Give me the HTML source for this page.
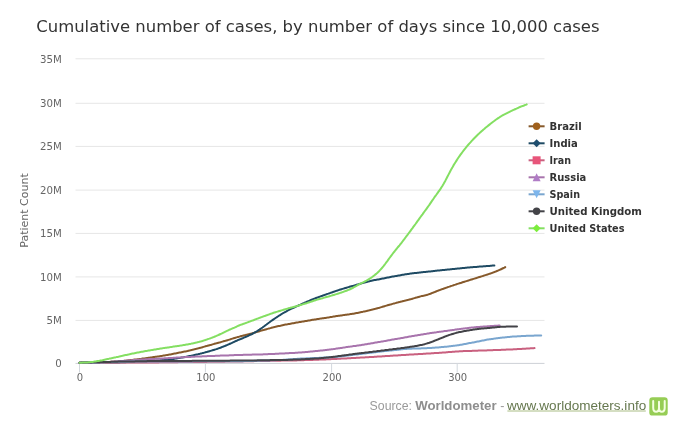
<!DOCTYPE html>
<html><head><meta charset="utf-8"><title>Cumulative number of cases</title>
<style>html,body{margin:0;padding:0;background:#fff;width:690px;height:435px;overflow:hidden}svg{display:block;filter:blur(0.3px)}</style>
</head><body>
<svg width="690" height="435" viewBox="0 0 690 435">
<rect width="690" height="435" fill="#fff"/>
<text x="36.3" y="31.8" font-family="DejaVu Sans, sans-serif" font-size="16.45" fill="#333333">Cumulative number of cases, by number of days since 10,000 cases</text>
<line x1="75.5" x2="544.5" y1="58.8" y2="58.8" stroke="#e6e6e6" stroke-width="1"/>
<line x1="75.5" x2="544.5" y1="103.3" y2="103.3" stroke="#e6e6e6" stroke-width="1"/>
<line x1="75.5" x2="544.5" y1="146.4" y2="146.4" stroke="#e6e6e6" stroke-width="1"/>
<line x1="75.5" x2="544.5" y1="190.1" y2="190.1" stroke="#e6e6e6" stroke-width="1"/>
<line x1="75.5" x2="544.5" y1="233.4" y2="233.4" stroke="#e6e6e6" stroke-width="1"/>
<line x1="75.5" x2="544.5" y1="276.9" y2="276.9" stroke="#e6e6e6" stroke-width="1"/>
<line x1="75.5" x2="544.5" y1="320.4" y2="320.4" stroke="#e6e6e6" stroke-width="1"/>
<text x="61.8" y="62.8" text-anchor="end" font-family="DejaVu Sans, sans-serif" font-size="10.2" fill="#666666">35M</text>
<text x="61.8" y="107.3" text-anchor="end" font-family="DejaVu Sans, sans-serif" font-size="10.2" fill="#666666">30M</text>
<text x="61.8" y="150.4" text-anchor="end" font-family="DejaVu Sans, sans-serif" font-size="10.2" fill="#666666">25M</text>
<text x="61.8" y="194.1" text-anchor="end" font-family="DejaVu Sans, sans-serif" font-size="10.2" fill="#666666">20M</text>
<text x="61.8" y="237.4" text-anchor="end" font-family="DejaVu Sans, sans-serif" font-size="10.2" fill="#666666">15M</text>
<text x="61.8" y="280.9" text-anchor="end" font-family="DejaVu Sans, sans-serif" font-size="10.2" fill="#666666">10M</text>
<text x="61.8" y="324.4" text-anchor="end" font-family="DejaVu Sans, sans-serif" font-size="10.2" fill="#666666">5M</text>
<text x="61.8" y="367.4" text-anchor="end" font-family="DejaVu Sans, sans-serif" font-size="10.2" fill="#666666">0</text>
<text transform="translate(27.9,210.5) rotate(-90)" text-anchor="middle" font-family="DejaVu Sans, sans-serif" font-size="11" fill="#666666">Patient Count</text>
<line x1="75.5" x2="544.5" y1="363.4" y2="363.4" stroke="#cdd1d6" stroke-width="1"/>
<line x1="79.5" x2="79.5" y1="363.4" y2="372.5" stroke="#d3d8de" stroke-width="1"/>
<text x="80.0" y="380.6" text-anchor="middle" font-family="DejaVu Sans, sans-serif" font-size="10" fill="#666666">0</text>
<line x1="205.4" x2="205.4" y1="363.4" y2="372.5" stroke="#d3d8de" stroke-width="1"/>
<text x="205.9" y="380.6" text-anchor="middle" font-family="DejaVu Sans, sans-serif" font-size="10" fill="#666666">100</text>
<line x1="331.6" x2="331.6" y1="363.4" y2="372.5" stroke="#d3d8de" stroke-width="1"/>
<text x="332.1" y="380.6" text-anchor="middle" font-family="DejaVu Sans, sans-serif" font-size="10" fill="#666666">200</text>
<line x1="457.2" x2="457.2" y1="363.4" y2="372.5" stroke="#d3d8de" stroke-width="1"/>
<text x="457.7" y="380.6" text-anchor="middle" font-family="DejaVu Sans, sans-serif" font-size="10" fill="#666666">300</text>
<path d="M79.5,362.7 L80.5,362.7 L81.5,362.7 L82.5,362.7 L83.5,362.6 L84.5,362.6 L85.5,362.6 L86.5,362.6 L87.5,362.6 L88.5,362.6 L89.5,362.6 L90.5,362.5 L91.5,362.5 L92.5,362.5 L93.5,362.5 L94.5,362.5 L95.5,362.5 L96.5,362.4 L97.5,362.4 L98.5,362.4 L99.5,362.4 L100.5,362.3 L101.5,362.3 L102.5,362.2 L103.5,362.2 L104.5,362.1 L105.5,362.1 L106.5,362.0 L107.5,362.0 L108.5,361.9 L109.5,361.9 L110.5,361.8 L111.5,361.8 L112.5,361.7 L113.5,361.7 L114.5,361.6 L115.5,361.5 L116.5,361.5 L117.5,361.4 L118.5,361.3 L119.5,361.3 L120.5,361.2 L121.5,361.1 L122.5,361.0 L123.5,360.9 L124.5,360.8 L125.5,360.7 L126.5,360.6 L127.5,360.4 L128.5,360.3 L129.5,360.2 L130.5,360.1 L131.5,360.0 L132.5,359.9 L133.5,359.7 L134.5,359.6 L135.5,359.5 L136.5,359.4 L137.5,359.3 L138.5,359.2 L139.5,359.0 L140.5,358.9 L141.5,358.8 L142.5,358.6 L143.5,358.5 L144.5,358.4 L145.5,358.2 L146.5,358.1 L147.5,357.9 L148.5,357.8 L149.5,357.7 L150.5,357.5 L151.5,357.4 L152.5,357.2 L153.5,357.1 L154.5,357.0 L155.5,356.8 L156.5,356.7 L157.5,356.5 L158.5,356.4 L159.5,356.2 L160.5,356.1 L161.5,355.9 L162.5,355.8 L163.5,355.6 L164.5,355.4 L165.5,355.2 L166.5,355.1 L167.5,354.9 L168.5,354.7 L169.5,354.5 L170.5,354.4 L171.5,354.2 L172.5,354.0 L173.5,353.8 L174.5,353.6 L175.5,353.4 L176.5,353.2 L177.5,353.0 L178.5,352.8 L179.5,352.6 L180.5,352.4 L181.5,352.2 L182.5,352.0 L183.5,351.8 L184.5,351.6 L185.5,351.4 L186.5,351.2 L187.5,351.0 L188.5,350.7 L189.5,350.5 L190.5,350.3 L191.5,350.0 L192.5,349.8 L193.5,349.5 L194.5,349.3 L195.5,349.0 L196.5,348.8 L197.5,348.5 L198.5,348.3 L199.5,348.0 L200.5,347.7 L201.5,347.5 L202.5,347.2 L203.5,346.9 L204.5,346.6 L205.5,346.3 L206.5,346.1 L207.5,345.8 L208.5,345.5 L209.5,345.2 L210.5,344.9 L211.5,344.7 L212.5,344.4 L213.5,344.1 L214.5,343.8 L215.5,343.5 L216.5,343.3 L217.5,343.0 L218.5,342.7 L219.5,342.4 L220.5,342.2 L221.5,341.9 L222.5,341.6 L223.5,341.3 L224.5,341.0 L225.5,340.8 L226.5,340.5 L227.5,340.2 L228.5,339.9 L229.5,339.6 L230.5,339.3 L231.5,338.9 L232.5,338.6 L233.5,338.3 L234.5,338.0 L235.5,337.7 L236.5,337.4 L237.5,337.1 L238.5,336.9 L239.5,336.6 L240.5,336.3 L241.5,336.0 L242.5,335.8 L243.5,335.5 L244.5,335.2 L245.5,335.0 L246.5,334.7 L247.5,334.5 L248.5,334.2 L249.5,334.0 L250.5,333.7 L251.5,333.5 L252.5,333.2 L253.5,332.9 L254.5,332.6 L255.5,332.4 L256.5,332.1 L257.5,331.8 L258.5,331.5 L259.5,331.2 L260.5,330.9 L261.5,330.6 L262.5,330.3 L263.5,330.1 L264.5,329.8 L265.5,329.5 L266.5,329.2 L267.5,328.9 L268.5,328.6 L269.5,328.4 L270.5,328.1 L271.5,327.8 L272.5,327.5 L273.5,327.3 L274.5,327.0 L275.5,326.8 L276.5,326.5 L277.5,326.3 L278.5,326.1 L279.5,325.9 L280.5,325.7 L281.5,325.4 L282.5,325.2 L283.5,325.0 L284.5,324.8 L285.5,324.6 L286.5,324.4 L287.5,324.3 L288.5,324.1 L289.5,323.9 L290.5,323.7 L291.5,323.5 L292.5,323.3 L293.5,323.2 L294.5,323.0 L295.5,322.8 L296.5,322.6 L297.5,322.4 L298.5,322.3 L299.5,322.1 L300.5,321.9 L301.5,321.7 L302.5,321.6 L303.5,321.4 L304.5,321.2 L305.5,321.0 L306.5,320.9 L307.5,320.7 L308.5,320.5 L309.5,320.4 L310.5,320.2 L311.5,320.0 L312.5,319.8 L313.5,319.7 L314.5,319.5 L315.5,319.4 L316.5,319.2 L317.5,319.0 L318.5,318.9 L319.5,318.7 L320.5,318.6 L321.5,318.4 L322.5,318.3 L323.5,318.2 L324.5,318.0 L325.5,317.9 L326.5,317.7 L327.5,317.6 L328.5,317.4 L329.5,317.3 L330.5,317.1 L331.5,316.9 L332.5,316.8 L333.5,316.6 L334.5,316.5 L335.5,316.3 L336.5,316.1 L337.5,316.0 L338.5,315.8 L339.5,315.7 L340.5,315.5 L341.5,315.4 L342.5,315.2 L343.5,315.1 L344.5,314.9 L345.5,314.8 L346.5,314.7 L347.5,314.5 L348.5,314.4 L349.5,314.3 L350.5,314.1 L351.5,314.0 L352.5,313.8 L353.5,313.7 L354.5,313.5 L355.5,313.3 L356.5,313.1 L357.5,312.9 L358.5,312.7 L359.5,312.5 L360.5,312.3 L361.5,312.1 L362.5,311.9 L363.5,311.6 L364.5,311.4 L365.5,311.2 L366.5,311.0 L367.5,310.7 L368.5,310.5 L369.5,310.3 L370.5,310.0 L371.5,309.8 L372.5,309.5 L373.5,309.3 L374.5,309.0 L375.5,308.8 L376.5,308.5 L377.5,308.2 L378.5,307.9 L379.5,307.7 L380.5,307.4 L381.5,307.1 L382.5,306.8 L383.5,306.5 L384.5,306.2 L385.5,305.9 L386.5,305.6 L387.5,305.3 L388.5,305.0 L389.5,304.7 L390.5,304.4 L391.5,304.2 L392.5,303.9 L393.5,303.6 L394.5,303.4 L395.5,303.1 L396.5,302.8 L397.5,302.6 L398.5,302.3 L399.5,302.1 L400.5,301.8 L401.5,301.6 L402.5,301.3 L403.5,301.0 L404.5,300.8 L405.5,300.5 L406.5,300.3 L407.5,300.0 L408.5,299.8 L409.5,299.5 L410.5,299.2 L411.5,299.0 L412.5,298.7 L413.5,298.4 L414.5,298.1 L415.5,297.8 L416.5,297.6 L417.5,297.3 L418.5,297.0 L419.5,296.7 L420.5,296.4 L421.5,296.1 L422.5,295.9 L423.5,295.7 L424.5,295.5 L425.5,295.2 L426.5,295.0 L427.5,294.7 L428.5,294.4 L429.5,294.0 L430.5,293.7 L431.5,293.3 L432.5,292.9 L433.5,292.5 L434.5,292.1 L435.5,291.7 L436.5,291.3 L437.5,290.9 L438.5,290.5 L439.5,290.1 L440.5,289.8 L441.5,289.4 L442.5,289.0 L443.5,288.7 L444.5,288.3 L445.5,288.0 L446.5,287.6 L447.5,287.3 L448.5,286.9 L449.5,286.6 L450.5,286.2 L451.5,285.9 L452.5,285.6 L453.5,285.2 L454.5,284.9 L455.5,284.6 L456.5,284.2 L457.5,283.9 L458.5,283.6 L459.5,283.3 L460.5,283.0 L461.5,282.7 L462.5,282.3 L463.5,282.0 L464.5,281.7 L465.5,281.4 L466.5,281.1 L467.5,280.8 L468.5,280.5 L469.5,280.1 L470.5,279.8 L471.5,279.5 L472.5,279.2 L473.5,278.9 L474.5,278.6 L475.5,278.3 L476.5,278.0 L477.5,277.6 L478.5,277.3 L479.5,277.0 L480.5,276.7 L481.5,276.4 L482.5,276.1 L483.5,275.8 L484.5,275.4 L485.5,275.1 L486.5,274.8 L487.5,274.5 L488.5,274.1 L489.5,273.8 L490.5,273.5 L491.5,273.1 L492.5,272.8 L493.5,272.4 L494.5,272.0 L495.5,271.6 L496.5,271.2 L497.5,270.8 L498.5,270.4 L499.5,269.9 L500.5,269.5 L501.5,269.0 L502.5,268.5 L503.5,268.0 L504.5,267.6 L505.2,267.1" fill="none" stroke="#86592b" stroke-width="2" stroke-linejoin="round" stroke-linecap="round"/>
<path d="M79.5,362.7 L80.5,362.7 L81.5,362.7 L82.5,362.7 L83.5,362.7 L84.5,362.7 L85.5,362.7 L86.5,362.6 L87.5,362.6 L88.5,362.6 L89.5,362.6 L90.5,362.6 L91.5,362.6 L92.5,362.6 L93.5,362.6 L94.5,362.6 L95.5,362.6 L96.5,362.6 L97.5,362.6 L98.5,362.6 L99.5,362.6 L100.5,362.5 L101.5,362.5 L102.5,362.5 L103.5,362.5 L104.5,362.5 L105.5,362.5 L106.5,362.5 L107.5,362.5 L108.5,362.5 L109.5,362.5 L110.5,362.5 L111.5,362.5 L112.5,362.5 L113.5,362.4 L114.5,362.4 L115.5,362.4 L116.5,362.4 L117.5,362.4 L118.5,362.4 L119.5,362.4 L120.5,362.3 L121.5,362.3 L122.5,362.3 L123.5,362.3 L124.5,362.2 L125.5,362.2 L126.5,362.1 L127.5,362.1 L128.5,362.1 L129.5,362.0 L130.5,362.0 L131.5,361.9 L132.5,361.9 L133.5,361.9 L134.5,361.8 L135.5,361.8 L136.5,361.7 L137.5,361.7 L138.5,361.7 L139.5,361.6 L140.5,361.6 L141.5,361.5 L142.5,361.5 L143.5,361.5 L144.5,361.4 L145.5,361.4 L146.5,361.3 L147.5,361.3 L148.5,361.2 L149.5,361.2 L150.5,361.1 L151.5,361.0 L152.5,361.0 L153.5,360.9 L154.5,360.8 L155.5,360.7 L156.5,360.6 L157.5,360.6 L158.5,360.5 L159.5,360.4 L160.5,360.3 L161.5,360.2 L162.5,360.1 L163.5,360.1 L164.5,360.0 L165.5,359.9 L166.5,359.8 L167.5,359.7 L168.5,359.6 L169.5,359.5 L170.5,359.3 L171.5,359.2 L172.5,359.1 L173.5,358.9 L174.5,358.8 L175.5,358.6 L176.5,358.4 L177.5,358.3 L178.5,358.1 L179.5,357.9 L180.5,357.8 L181.5,357.6 L182.5,357.4 L183.5,357.3 L184.5,357.1 L185.5,356.9 L186.5,356.7 L187.5,356.5 L188.5,356.3 L189.5,356.1 L190.5,355.9 L191.5,355.7 L192.5,355.5 L193.5,355.3 L194.5,355.0 L195.5,354.8 L196.5,354.6 L197.5,354.4 L198.5,354.1 L199.5,353.9 L200.5,353.6 L201.5,353.4 L202.5,353.1 L203.5,352.9 L204.5,352.6 L205.5,352.3 L206.5,352.1 L207.5,351.8 L208.5,351.5 L209.5,351.2 L210.5,350.9 L211.5,350.6 L212.5,350.3 L213.5,350.0 L214.5,349.7 L215.5,349.4 L216.5,349.1 L217.5,348.7 L218.5,348.4 L219.5,348.0 L220.5,347.7 L221.5,347.3 L222.5,346.9 L223.5,346.5 L224.5,346.1 L225.5,345.7 L226.5,345.3 L227.5,344.9 L228.5,344.4 L229.5,344.0 L230.5,343.5 L231.5,343.1 L232.5,342.6 L233.5,342.1 L234.5,341.7 L235.5,341.2 L236.5,340.8 L237.5,340.3 L238.5,339.9 L239.5,339.5 L240.5,339.1 L241.5,338.7 L242.5,338.3 L243.5,337.8 L244.5,337.4 L245.5,337.0 L246.5,336.6 L247.5,336.1 L248.5,335.7 L249.5,335.2 L250.5,334.7 L251.5,334.3 L252.5,333.8 L253.5,333.2 L254.5,332.7 L255.5,332.1 L256.5,331.5 L257.5,330.9 L258.5,330.2 L259.5,329.6 L260.5,328.9 L261.5,328.2 L262.5,327.5 L263.5,326.7 L264.5,326.0 L265.5,325.2 L266.5,324.5 L267.5,323.7 L268.5,323.0 L269.5,322.3 L270.5,321.5 L271.5,320.8 L272.5,320.1 L273.5,319.4 L274.5,318.7 L275.5,318.0 L276.5,317.4 L277.5,316.7 L278.5,316.0 L279.5,315.4 L280.5,314.8 L281.5,314.1 L282.5,313.5 L283.5,312.9 L284.5,312.4 L285.5,311.8 L286.5,311.3 L287.5,310.7 L288.5,310.2 L289.5,309.7 L290.5,309.2 L291.5,308.7 L292.5,308.2 L293.5,307.8 L294.5,307.3 L295.5,306.8 L296.5,306.4 L297.5,305.9 L298.5,305.5 L299.5,305.0 L300.5,304.6 L301.5,304.1 L302.5,303.7 L303.5,303.3 L304.5,302.8 L305.5,302.4 L306.5,302.0 L307.5,301.5 L308.5,301.1 L309.5,300.7 L310.5,300.2 L311.5,299.8 L312.5,299.4 L313.5,299.0 L314.5,298.6 L315.5,298.2 L316.5,297.8 L317.5,297.5 L318.5,297.1 L319.5,296.7 L320.5,296.4 L321.5,296.0 L322.5,295.7 L323.5,295.3 L324.5,295.0 L325.5,294.6 L326.5,294.3 L327.5,293.9 L328.5,293.6 L329.5,293.2 L330.5,292.9 L331.5,292.5 L332.5,292.2 L333.5,291.8 L334.5,291.5 L335.5,291.1 L336.5,290.8 L337.5,290.5 L338.5,290.1 L339.5,289.8 L340.5,289.5 L341.5,289.2 L342.5,288.9 L343.5,288.6 L344.5,288.3 L345.5,288.0 L346.5,287.7 L347.5,287.4 L348.5,287.1 L349.5,286.8 L350.5,286.5 L351.5,286.2 L352.5,285.9 L353.5,285.7 L354.5,285.4 L355.5,285.1 L356.5,284.8 L357.5,284.6 L358.5,284.3 L359.5,284.0 L360.5,283.7 L361.5,283.4 L362.5,283.1 L363.5,282.8 L364.5,282.6 L365.5,282.3 L366.5,282.0 L367.5,281.7 L368.5,281.4 L369.5,281.2 L370.5,280.9 L371.5,280.7 L372.5,280.5 L373.5,280.3 L374.5,280.1 L375.5,279.9 L376.5,279.7 L377.5,279.5 L378.5,279.4 L379.5,279.2 L380.5,279.0 L381.5,278.8 L382.5,278.6 L383.5,278.4 L384.5,278.2 L385.5,278.0 L386.5,277.8 L387.5,277.6 L388.5,277.4 L389.5,277.2 L390.5,277.0 L391.5,276.8 L392.5,276.6 L393.5,276.4 L394.5,276.2 L395.5,276.1 L396.5,275.9 L397.5,275.7 L398.5,275.5 L399.5,275.4 L400.5,275.2 L401.5,275.0 L402.5,274.8 L403.5,274.7 L404.5,274.5 L405.5,274.3 L406.5,274.2 L407.5,274.0 L408.5,273.9 L409.5,273.7 L410.5,273.6 L411.5,273.5 L412.5,273.3 L413.5,273.2 L414.5,273.1 L415.5,273.0 L416.5,272.9 L417.5,272.8 L418.5,272.7 L419.5,272.6 L420.5,272.5 L421.5,272.3 L422.5,272.2 L423.5,272.1 L424.5,272.0 L425.5,271.9 L426.5,271.8 L427.5,271.7 L428.5,271.6 L429.5,271.5 L430.5,271.4 L431.5,271.3 L432.5,271.2 L433.5,271.0 L434.5,270.9 L435.5,270.8 L436.5,270.7 L437.5,270.6 L438.5,270.5 L439.5,270.4 L440.5,270.3 L441.5,270.2 L442.5,270.1 L443.5,270.0 L444.5,269.9 L445.5,269.8 L446.5,269.7 L447.5,269.6 L448.5,269.5 L449.5,269.4 L450.5,269.3 L451.5,269.2 L452.5,269.1 L453.5,269.0 L454.5,268.9 L455.5,268.8 L456.5,268.7 L457.5,268.6 L458.5,268.5 L459.5,268.4 L460.5,268.3 L461.5,268.2 L462.5,268.1 L463.5,268.0 L464.5,267.9 L465.5,267.8 L466.5,267.7 L467.5,267.6 L468.5,267.5 L469.5,267.4 L470.5,267.3 L471.5,267.3 L472.5,267.2 L473.5,267.1 L474.5,267.0 L475.5,266.9 L476.5,266.9 L477.5,266.8 L478.5,266.7 L479.5,266.6 L480.5,266.6 L481.5,266.5 L482.5,266.4 L483.5,266.3 L484.5,266.3 L485.5,266.2 L486.5,266.1 L487.5,266.0 L488.5,266.0 L489.5,265.9 L490.5,265.8 L491.5,265.7 L492.5,265.6 L493.5,265.6 L494.4,265.5" fill="none" stroke="#1e4a63" stroke-width="2" stroke-linejoin="round" stroke-linecap="round"/>
<path d="M79.5,362.7 L80.5,362.7 L81.5,362.7 L82.5,362.7 L83.5,362.7 L84.5,362.7 L85.5,362.7 L86.5,362.7 L87.5,362.7 L88.5,362.7 L89.5,362.7 L90.5,362.7 L91.5,362.7 L92.5,362.6 L93.5,362.6 L94.5,362.6 L95.5,362.6 L96.5,362.6 L97.5,362.6 L98.5,362.6 L99.5,362.6 L100.5,362.6 L101.5,362.6 L102.5,362.6 L103.5,362.6 L104.5,362.6 L105.5,362.6 L106.5,362.6 L107.5,362.6 L108.5,362.6 L109.5,362.6 L110.5,362.6 L111.5,362.6 L112.5,362.6 L113.5,362.6 L114.5,362.6 L115.5,362.6 L116.5,362.6 L117.5,362.5 L118.5,362.5 L119.5,362.5 L120.5,362.5 L121.5,362.5 L122.5,362.5 L123.5,362.5 L124.5,362.5 L125.5,362.5 L126.5,362.5 L127.5,362.5 L128.5,362.5 L129.5,362.5 L130.5,362.5 L131.5,362.5 L132.5,362.5 L133.5,362.5 L134.5,362.5 L135.5,362.5 L136.5,362.5 L137.5,362.5 L138.5,362.5 L139.5,362.5 L140.5,362.5 L141.5,362.5 L142.5,362.4 L143.5,362.4 L144.5,362.4 L145.5,362.4 L146.5,362.4 L147.5,362.4 L148.5,362.4 L149.5,362.4 L150.5,362.4 L151.5,362.4 L152.5,362.4 L153.5,362.4 L154.5,362.4 L155.5,362.4 L156.5,362.4 L157.5,362.4 L158.5,362.4 L159.5,362.3 L160.5,362.3 L161.5,362.3 L162.5,362.3 L163.5,362.3 L164.5,362.3 L165.5,362.3 L166.5,362.3 L167.5,362.3 L168.5,362.3 L169.5,362.2 L170.5,362.2 L171.5,362.2 L172.5,362.2 L173.5,362.2 L174.5,362.2 L175.5,362.2 L176.5,362.2 L177.5,362.2 L178.5,362.1 L179.5,362.1 L180.5,362.1 L181.5,362.1 L182.5,362.1 L183.5,362.1 L184.5,362.1 L185.5,362.1 L186.5,362.1 L187.5,362.1 L188.5,362.0 L189.5,362.0 L190.5,362.0 L191.5,362.0 L192.5,362.0 L193.5,362.0 L194.5,362.0 L195.5,362.0 L196.5,362.0 L197.5,361.9 L198.5,361.9 L199.5,361.9 L200.5,361.9 L201.5,361.9 L202.5,361.9 L203.5,361.9 L204.5,361.9 L205.5,361.9 L206.5,361.9 L207.5,361.8 L208.5,361.8 L209.5,361.8 L210.5,361.8 L211.5,361.8 L212.5,361.8 L213.5,361.8 L214.5,361.8 L215.5,361.8 L216.5,361.7 L217.5,361.7 L218.5,361.7 L219.5,361.7 L220.5,361.7 L221.5,361.7 L222.5,361.7 L223.5,361.7 L224.5,361.7 L225.5,361.6 L226.5,361.6 L227.5,361.6 L228.5,361.6 L229.5,361.6 L230.5,361.6 L231.5,361.6 L232.5,361.5 L233.5,361.5 L234.5,361.5 L235.5,361.5 L236.5,361.5 L237.5,361.5 L238.5,361.4 L239.5,361.4 L240.5,361.4 L241.5,361.4 L242.5,361.4 L243.5,361.3 L244.5,361.3 L245.5,361.3 L246.5,361.3 L247.5,361.3 L248.5,361.3 L249.5,361.2 L250.5,361.2 L251.5,361.2 L252.5,361.2 L253.5,361.2 L254.5,361.1 L255.5,361.1 L256.5,361.1 L257.5,361.1 L258.5,361.1 L259.5,361.1 L260.5,361.0 L261.5,361.0 L262.5,361.0 L263.5,361.0 L264.5,361.0 L265.5,360.9 L266.5,360.9 L267.5,360.9 L268.5,360.9 L269.5,360.9 L270.5,360.8 L271.5,360.8 L272.5,360.8 L273.5,360.8 L274.5,360.8 L275.5,360.8 L276.5,360.7 L277.5,360.7 L278.5,360.7 L279.5,360.7 L280.5,360.7 L281.5,360.6 L282.5,360.6 L283.5,360.6 L284.5,360.6 L285.5,360.6 L286.5,360.6 L287.5,360.5 L288.5,360.5 L289.5,360.5 L290.5,360.5 L291.5,360.5 L292.5,360.4 L293.5,360.4 L294.5,360.4 L295.5,360.4 L296.5,360.4 L297.5,360.3 L298.5,360.3 L299.5,360.3 L300.5,360.3 L301.5,360.2 L302.5,360.2 L303.5,360.2 L304.5,360.1 L305.5,360.1 L306.5,360.1 L307.5,360.0 L308.5,360.0 L309.5,360.0 L310.5,359.9 L311.5,359.9 L312.5,359.9 L313.5,359.8 L314.5,359.8 L315.5,359.8 L316.5,359.7 L317.5,359.7 L318.5,359.7 L319.5,359.6 L320.5,359.6 L321.5,359.5 L322.5,359.5 L323.5,359.5 L324.5,359.4 L325.5,359.4 L326.5,359.3 L327.5,359.3 L328.5,359.3 L329.5,359.2 L330.5,359.2 L331.5,359.1 L332.5,359.1 L333.5,359.0 L334.5,359.0 L335.5,358.9 L336.5,358.9 L337.5,358.8 L338.5,358.8 L339.5,358.7 L340.5,358.7 L341.5,358.6 L342.5,358.6 L343.5,358.5 L344.5,358.5 L345.5,358.4 L346.5,358.4 L347.5,358.3 L348.5,358.3 L349.5,358.2 L350.5,358.2 L351.5,358.1 L352.5,358.1 L353.5,358.0 L354.5,357.9 L355.5,357.9 L356.5,357.8 L357.5,357.8 L358.5,357.7 L359.5,357.7 L360.5,357.6 L361.5,357.5 L362.5,357.5 L363.5,357.4 L364.5,357.4 L365.5,357.3 L366.5,357.3 L367.5,357.2 L368.5,357.2 L369.5,357.1 L370.5,357.0 L371.5,357.0 L372.5,356.9 L373.5,356.9 L374.5,356.8 L375.5,356.8 L376.5,356.7 L377.5,356.6 L378.5,356.6 L379.5,356.5 L380.5,356.5 L381.5,356.4 L382.5,356.3 L383.5,356.3 L384.5,356.2 L385.5,356.1 L386.5,356.1 L387.5,356.0 L388.5,356.0 L389.5,355.9 L390.5,355.8 L391.5,355.8 L392.5,355.7 L393.5,355.6 L394.5,355.6 L395.5,355.5 L396.5,355.5 L397.5,355.4 L398.5,355.3 L399.5,355.3 L400.5,355.2 L401.5,355.1 L402.5,355.1 L403.5,355.0 L404.5,354.9 L405.5,354.9 L406.5,354.8 L407.5,354.8 L408.5,354.7 L409.5,354.6 L410.5,354.6 L411.5,354.5 L412.5,354.5 L413.5,354.4 L414.5,354.3 L415.5,354.3 L416.5,354.2 L417.5,354.2 L418.5,354.1 L419.5,354.0 L420.5,354.0 L421.5,353.9 L422.5,353.9 L423.5,353.8 L424.5,353.7 L425.5,353.7 L426.5,353.6 L427.5,353.5 L428.5,353.5 L429.5,353.4 L430.5,353.4 L431.5,353.3 L432.5,353.2 L433.5,353.2 L434.5,353.1 L435.5,353.1 L436.5,353.0 L437.5,352.9 L438.5,352.9 L439.5,352.8 L440.5,352.7 L441.5,352.7 L442.5,352.6 L443.5,352.5 L444.5,352.4 L445.5,352.4 L446.5,352.3 L447.5,352.2 L448.5,352.1 L449.5,352.0 L450.5,352.0 L451.5,351.9 L452.5,351.8 L453.5,351.7 L454.5,351.7 L455.5,351.6 L456.5,351.5 L457.5,351.4 L458.5,351.4 L459.5,351.3 L460.5,351.3 L461.5,351.2 L462.5,351.2 L463.5,351.1 L464.5,351.1 L465.5,351.1 L466.5,351.0 L467.5,351.0 L468.5,350.9 L469.5,350.9 L470.5,350.9 L471.5,350.9 L472.5,350.8 L473.5,350.8 L474.5,350.8 L475.5,350.7 L476.5,350.7 L477.5,350.7 L478.5,350.6 L479.5,350.6 L480.5,350.6 L481.5,350.5 L482.5,350.5 L483.5,350.5 L484.5,350.4 L485.5,350.4 L486.5,350.4 L487.5,350.3 L488.5,350.3 L489.5,350.3 L490.5,350.2 L491.5,350.2 L492.5,350.2 L493.5,350.1 L494.5,350.1 L495.5,350.1 L496.5,350.0 L497.5,350.0 L498.5,350.0 L499.5,349.9 L500.5,349.9 L501.5,349.8 L502.5,349.8 L503.5,349.8 L504.5,349.7 L505.5,349.7 L506.5,349.6 L507.5,349.6 L508.5,349.5 L509.5,349.5 L510.5,349.4 L511.5,349.4 L512.5,349.4 L513.5,349.3 L514.5,349.3 L515.5,349.2 L516.5,349.2 L517.5,349.1 L518.5,349.1 L519.5,349.0 L520.5,348.9 L521.5,348.9 L522.5,348.8 L523.5,348.8 L524.5,348.7 L525.5,348.7 L526.5,348.6 L527.5,348.5 L528.5,348.5 L529.5,348.4 L530.5,348.3 L531.5,348.3 L532.5,348.2 L533.5,348.2 L534.5,348.1" fill="none" stroke="#c9607f" stroke-width="2" stroke-linejoin="round" stroke-linecap="round"/>
<path d="M79.5,362.7 L80.5,362.7 L81.5,362.7 L82.5,362.6 L83.5,362.6 L84.5,362.6 L85.5,362.6 L86.5,362.5 L87.5,362.5 L88.5,362.5 L89.5,362.5 L90.5,362.4 L91.5,362.4 L92.5,362.4 L93.5,362.4 L94.5,362.4 L95.5,362.3 L96.5,362.3 L97.5,362.3 L98.5,362.3 L99.5,362.2 L100.5,362.2 L101.5,362.2 L102.5,362.2 L103.5,362.1 L104.5,362.1 L105.5,362.1 L106.5,362.1 L107.5,362.0 L108.5,362.0 L109.5,361.9 L110.5,361.9 L111.5,361.8 L112.5,361.8 L113.5,361.7 L114.5,361.6 L115.5,361.6 L116.5,361.5 L117.5,361.4 L118.5,361.3 L119.5,361.2 L120.5,361.2 L121.5,361.1 L122.5,361.0 L123.5,360.9 L124.5,360.8 L125.5,360.8 L126.5,360.7 L127.5,360.6 L128.5,360.5 L129.5,360.4 L130.5,360.4 L131.5,360.3 L132.5,360.2 L133.5,360.1 L134.5,360.0 L135.5,360.0 L136.5,359.9 L137.5,359.8 L138.5,359.7 L139.5,359.7 L140.5,359.6 L141.5,359.6 L142.5,359.5 L143.5,359.4 L144.5,359.4 L145.5,359.3 L146.5,359.3 L147.5,359.2 L148.5,359.2 L149.5,359.1 L150.5,359.1 L151.5,359.0 L152.5,359.0 L153.5,358.9 L154.5,358.9 L155.5,358.8 L156.5,358.8 L157.5,358.7 L158.5,358.7 L159.5,358.6 L160.5,358.6 L161.5,358.5 L162.5,358.4 L163.5,358.4 L164.5,358.3 L165.5,358.3 L166.5,358.2 L167.5,358.2 L168.5,358.1 L169.5,358.0 L170.5,358.0 L171.5,357.9 L172.5,357.9 L173.5,357.8 L174.5,357.7 L175.5,357.7 L176.5,357.6 L177.5,357.6 L178.5,357.5 L179.5,357.4 L180.5,357.4 L181.5,357.3 L182.5,357.3 L183.5,357.2 L184.5,357.2 L185.5,357.1 L186.5,357.1 L187.5,357.0 L188.5,357.0 L189.5,356.9 L190.5,356.9 L191.5,356.8 L192.5,356.8 L193.5,356.7 L194.5,356.7 L195.5,356.6 L196.5,356.6 L197.5,356.5 L198.5,356.5 L199.5,356.4 L200.5,356.4 L201.5,356.4 L202.5,356.3 L203.5,356.3 L204.5,356.2 L205.5,356.2 L206.5,356.2 L207.5,356.1 L208.5,356.1 L209.5,356.1 L210.5,356.0 L211.5,356.0 L212.5,355.9 L213.5,355.9 L214.5,355.9 L215.5,355.8 L216.5,355.8 L217.5,355.8 L218.5,355.7 L219.5,355.7 L220.5,355.6 L221.5,355.6 L222.5,355.6 L223.5,355.5 L224.5,355.5 L225.5,355.5 L226.5,355.4 L227.5,355.4 L228.5,355.4 L229.5,355.3 L230.5,355.3 L231.5,355.2 L232.5,355.2 L233.5,355.2 L234.5,355.1 L235.5,355.1 L236.5,355.0 L237.5,355.0 L238.5,355.0 L239.5,354.9 L240.5,354.9 L241.5,354.9 L242.5,354.9 L243.5,354.8 L244.5,354.8 L245.5,354.8 L246.5,354.8 L247.5,354.7 L248.5,354.7 L249.5,354.7 L250.5,354.7 L251.5,354.7 L252.5,354.6 L253.5,354.6 L254.5,354.6 L255.5,354.6 L256.5,354.5 L257.5,354.5 L258.5,354.5 L259.5,354.5 L260.5,354.4 L261.5,354.4 L262.5,354.4 L263.5,354.3 L264.5,354.3 L265.5,354.3 L266.5,354.2 L267.5,354.2 L268.5,354.1 L269.5,354.1 L270.5,354.1 L271.5,354.0 L272.5,354.0 L273.5,353.9 L274.5,353.9 L275.5,353.8 L276.5,353.8 L277.5,353.7 L278.5,353.7 L279.5,353.6 L280.5,353.6 L281.5,353.5 L282.5,353.5 L283.5,353.4 L284.5,353.4 L285.5,353.3 L286.5,353.3 L287.5,353.2 L288.5,353.2 L289.5,353.1 L290.5,353.1 L291.5,353.0 L292.5,353.0 L293.5,352.9 L294.5,352.9 L295.5,352.8 L296.5,352.8 L297.5,352.7 L298.5,352.6 L299.5,352.6 L300.5,352.5 L301.5,352.4 L302.5,352.3 L303.5,352.3 L304.5,352.2 L305.5,352.1 L306.5,352.0 L307.5,351.9 L308.5,351.8 L309.5,351.7 L310.5,351.6 L311.5,351.5 L312.5,351.4 L313.5,351.3 L314.5,351.2 L315.5,351.1 L316.5,351.0 L317.5,350.9 L318.5,350.8 L319.5,350.7 L320.5,350.6 L321.5,350.5 L322.5,350.4 L323.5,350.3 L324.5,350.2 L325.5,350.1 L326.5,350.0 L327.5,349.8 L328.5,349.7 L329.5,349.6 L330.5,349.5 L331.5,349.3 L332.5,349.2 L333.5,349.1 L334.5,348.9 L335.5,348.8 L336.5,348.6 L337.5,348.5 L338.5,348.3 L339.5,348.2 L340.5,348.0 L341.5,347.9 L342.5,347.7 L343.5,347.6 L344.5,347.4 L345.5,347.3 L346.5,347.1 L347.5,347.0 L348.5,346.8 L349.5,346.7 L350.5,346.6 L351.5,346.4 L352.5,346.3 L353.5,346.1 L354.5,346.0 L355.5,345.9 L356.5,345.7 L357.5,345.6 L358.5,345.5 L359.5,345.3 L360.5,345.2 L361.5,345.0 L362.5,344.8 L363.5,344.7 L364.5,344.5 L365.5,344.3 L366.5,344.2 L367.5,344.0 L368.5,343.8 L369.5,343.7 L370.5,343.5 L371.5,343.3 L372.5,343.2 L373.5,343.0 L374.5,342.8 L375.5,342.6 L376.5,342.5 L377.5,342.3 L378.5,342.1 L379.5,341.9 L380.5,341.8 L381.5,341.6 L382.5,341.4 L383.5,341.2 L384.5,341.1 L385.5,340.9 L386.5,340.7 L387.5,340.5 L388.5,340.3 L389.5,340.2 L390.5,340.0 L391.5,339.8 L392.5,339.6 L393.5,339.5 L394.5,339.3 L395.5,339.1 L396.5,338.9 L397.5,338.7 L398.5,338.6 L399.5,338.4 L400.5,338.2 L401.5,338.0 L402.5,337.9 L403.5,337.7 L404.5,337.5 L405.5,337.3 L406.5,337.2 L407.5,337.0 L408.5,336.8 L409.5,336.6 L410.5,336.5 L411.5,336.3 L412.5,336.1 L413.5,336.0 L414.5,335.8 L415.5,335.6 L416.5,335.5 L417.5,335.3 L418.5,335.1 L419.5,335.0 L420.5,334.8 L421.5,334.6 L422.5,334.5 L423.5,334.3 L424.5,334.1 L425.5,333.9 L426.5,333.8 L427.5,333.6 L428.5,333.5 L429.5,333.3 L430.5,333.1 L431.5,333.0 L432.5,332.8 L433.5,332.7 L434.5,332.5 L435.5,332.4 L436.5,332.3 L437.5,332.1 L438.5,332.0 L439.5,331.8 L440.5,331.7 L441.5,331.6 L442.5,331.4 L443.5,331.3 L444.5,331.1 L445.5,331.0 L446.5,330.9 L447.5,330.7 L448.5,330.6 L449.5,330.4 L450.5,330.3 L451.5,330.2 L452.5,330.0 L453.5,329.9 L454.5,329.8 L455.5,329.6 L456.5,329.5 L457.5,329.3 L458.5,329.2 L459.5,329.1 L460.5,328.9 L461.5,328.8 L462.5,328.7 L463.5,328.5 L464.5,328.4 L465.5,328.3 L466.5,328.2 L467.5,328.1 L468.5,327.9 L469.5,327.8 L470.5,327.7 L471.5,327.6 L472.5,327.5 L473.5,327.4 L474.5,327.3 L475.5,327.2 L476.5,327.1 L477.5,327.1 L478.5,327.0 L479.5,326.9 L480.5,326.8 L481.5,326.7 L482.5,326.7 L483.5,326.6 L484.5,326.5 L485.5,326.5 L486.5,326.4 L487.5,326.3 L488.5,326.3 L489.5,326.2 L490.5,326.1 L491.5,326.0 L492.5,326.0 L493.5,325.9 L494.5,325.8 L495.5,325.8 L496.5,325.7 L497.5,325.7 L498.5,325.6 L499.5,325.5 L499.6,325.5" fill="none" stroke="#a874ad" stroke-width="2" stroke-linejoin="round" stroke-linecap="round"/>
<path d="M79.5,362.7 L80.5,362.7 L81.5,362.7 L82.5,362.6 L83.5,362.6 L84.5,362.6 L85.5,362.6 L86.5,362.6 L87.5,362.6 L88.5,362.5 L89.5,362.5 L90.5,362.5 L91.5,362.5 L92.5,362.5 L93.5,362.5 L94.5,362.4 L95.5,362.4 L96.5,362.4 L97.5,362.4 L98.5,362.3 L99.5,362.3 L100.5,362.3 L101.5,362.3 L102.5,362.2 L103.5,362.2 L104.5,362.2 L105.5,362.1 L106.5,362.1 L107.5,362.1 L108.5,362.1 L109.5,362.0 L110.5,362.0 L111.5,362.0 L112.5,361.9 L113.5,361.9 L114.5,361.9 L115.5,361.9 L116.5,361.8 L117.5,361.8 L118.5,361.8 L119.5,361.8 L120.5,361.8 L121.5,361.7 L122.5,361.7 L123.5,361.7 L124.5,361.7 L125.5,361.7 L126.5,361.7 L127.5,361.7 L128.5,361.7 L129.5,361.7 L130.5,361.6 L131.5,361.6 L132.5,361.6 L133.5,361.6 L134.5,361.6 L135.5,361.6 L136.5,361.6 L137.5,361.6 L138.5,361.6 L139.5,361.5 L140.5,361.5 L141.5,361.5 L142.5,361.5 L143.5,361.5 L144.5,361.5 L145.5,361.5 L146.5,361.5 L147.5,361.5 L148.5,361.5 L149.5,361.5 L150.5,361.5 L151.5,361.5 L152.5,361.5 L153.5,361.5 L154.5,361.5 L155.5,361.5 L156.5,361.5 L157.5,361.5 L158.5,361.5 L159.5,361.5 L160.5,361.4 L161.5,361.4 L162.5,361.4 L163.5,361.4 L164.5,361.4 L165.5,361.4 L166.5,361.4 L167.5,361.4 L168.5,361.4 L169.5,361.4 L170.5,361.4 L171.5,361.4 L172.5,361.4 L173.5,361.4 L174.5,361.4 L175.5,361.4 L176.5,361.4 L177.5,361.4 L178.5,361.4 L179.5,361.4 L180.5,361.4 L181.5,361.4 L182.5,361.4 L183.5,361.4 L184.5,361.4 L185.5,361.4 L186.5,361.4 L187.5,361.4 L188.5,361.4 L189.5,361.4 L190.5,361.4 L191.5,361.4 L192.5,361.4 L193.5,361.3 L194.5,361.3 L195.5,361.3 L196.5,361.3 L197.5,361.3 L198.5,361.3 L199.5,361.3 L200.5,361.3 L201.5,361.3 L202.5,361.3 L203.5,361.3 L204.5,361.3 L205.5,361.3 L206.5,361.3 L207.5,361.3 L208.5,361.3 L209.5,361.3 L210.5,361.3 L211.5,361.3 L212.5,361.3 L213.5,361.3 L214.5,361.3 L215.5,361.3 L216.5,361.3 L217.5,361.3 L218.5,361.3 L219.5,361.3 L220.5,361.3 L221.5,361.3 L222.5,361.3 L223.5,361.3 L224.5,361.3 L225.5,361.3 L226.5,361.2 L227.5,361.2 L228.5,361.2 L229.5,361.2 L230.5,361.2 L231.5,361.2 L232.5,361.2 L233.5,361.2 L234.5,361.2 L235.5,361.2 L236.5,361.2 L237.5,361.2 L238.5,361.2 L239.5,361.2 L240.5,361.2 L241.5,361.2 L242.5,361.2 L243.5,361.2 L244.5,361.1 L245.5,361.1 L246.5,361.1 L247.5,361.1 L248.5,361.0 L249.5,361.0 L250.5,361.0 L251.5,360.9 L252.5,360.9 L253.5,360.9 L254.5,360.8 L255.5,360.8 L256.5,360.8 L257.5,360.7 L258.5,360.7 L259.5,360.7 L260.5,360.6 L261.5,360.6 L262.5,360.6 L263.5,360.6 L264.5,360.5 L265.5,360.5 L266.5,360.5 L267.5,360.4 L268.5,360.4 L269.5,360.4 L270.5,360.3 L271.5,360.3 L272.5,360.3 L273.5,360.2 L274.5,360.2 L275.5,360.2 L276.5,360.1 L277.5,360.1 L278.5,360.1 L279.5,360.0 L280.5,360.0 L281.5,359.9 L282.5,359.9 L283.5,359.8 L284.5,359.7 L285.5,359.7 L286.5,359.6 L287.5,359.5 L288.5,359.4 L289.5,359.4 L290.5,359.3 L291.5,359.2 L292.5,359.2 L293.5,359.1 L294.5,359.0 L295.5,358.9 L296.5,358.9 L297.5,358.8 L298.5,358.7 L299.5,358.7 L300.5,358.6 L301.5,358.6 L302.5,358.5 L303.5,358.5 L304.5,358.4 L305.5,358.4 L306.5,358.3 L307.5,358.3 L308.5,358.3 L309.5,358.2 L310.5,358.2 L311.5,358.2 L312.5,358.1 L313.5,358.1 L314.5,358.0 L315.5,358.0 L316.5,358.0 L317.5,357.9 L318.5,357.9 L319.5,357.8 L320.5,357.8 L321.5,357.7 L322.5,357.7 L323.5,357.6 L324.5,357.6 L325.5,357.5 L326.5,357.4 L327.5,357.4 L328.5,357.3 L329.5,357.3 L330.5,357.2 L331.5,357.2 L332.5,357.1 L333.5,357.0 L334.5,357.0 L335.5,356.9 L336.5,356.8 L337.5,356.7 L338.5,356.6 L339.5,356.5 L340.5,356.4 L341.5,356.2 L342.5,356.1 L343.5,356.0 L344.5,355.9 L345.5,355.8 L346.5,355.7 L347.5,355.5 L348.5,355.4 L349.5,355.3 L350.5,355.2 L351.5,355.1 L352.5,355.0 L353.5,354.8 L354.5,354.7 L355.5,354.6 L356.5,354.5 L357.5,354.4 L358.5,354.3 L359.5,354.1 L360.5,354.0 L361.5,353.9 L362.5,353.8 L363.5,353.6 L364.5,353.5 L365.5,353.4 L366.5,353.3 L367.5,353.1 L368.5,353.0 L369.5,352.9 L370.5,352.8 L371.5,352.7 L372.5,352.5 L373.5,352.4 L374.5,352.3 L375.5,352.2 L376.5,352.0 L377.5,351.9 L378.5,351.8 L379.5,351.7 L380.5,351.6 L381.5,351.5 L382.5,351.3 L383.5,351.2 L384.5,351.1 L385.5,351.0 L386.5,350.9 L387.5,350.8 L388.5,350.7 L389.5,350.6 L390.5,350.5 L391.5,350.4 L392.5,350.3 L393.5,350.2 L394.5,350.1 L395.5,350.0 L396.5,349.9 L397.5,349.8 L398.5,349.7 L399.5,349.6 L400.5,349.4 L401.5,349.3 L402.5,349.2 L403.5,349.1 L404.5,349.0 L405.5,349.0 L406.5,348.9 L407.5,348.8 L408.5,348.8 L409.5,348.8 L410.5,348.7 L411.5,348.7 L412.5,348.6 L413.5,348.6 L414.5,348.6 L415.5,348.5 L416.5,348.5 L417.5,348.5 L418.5,348.4 L419.5,348.4 L420.5,348.4 L421.5,348.3 L422.5,348.3 L423.5,348.3 L424.5,348.2 L425.5,348.2 L426.5,348.2 L427.5,348.1 L428.5,348.1 L429.5,348.0 L430.5,348.0 L431.5,347.9 L432.5,347.8 L433.5,347.8 L434.5,347.7 L435.5,347.6 L436.5,347.5 L437.5,347.4 L438.5,347.4 L439.5,347.3 L440.5,347.2 L441.5,347.1 L442.5,347.0 L443.5,346.9 L444.5,346.8 L445.5,346.7 L446.5,346.7 L447.5,346.6 L448.5,346.4 L449.5,346.3 L450.5,346.2 L451.5,346.1 L452.5,346.0 L453.5,345.8 L454.5,345.7 L455.5,345.6 L456.5,345.4 L457.5,345.3 L458.5,345.2 L459.5,345.0 L460.5,344.8 L461.5,344.7 L462.5,344.5 L463.5,344.3 L464.5,344.1 L465.5,343.9 L466.5,343.7 L467.5,343.5 L468.5,343.3 L469.5,343.1 L470.5,342.9 L471.5,342.8 L472.5,342.6 L473.5,342.4 L474.5,342.2 L475.5,342.0 L476.5,341.8 L477.5,341.6 L478.5,341.4 L479.5,341.2 L480.5,341.0 L481.5,340.8 L482.5,340.6 L483.5,340.4 L484.5,340.2 L485.5,340.0 L486.5,339.8 L487.5,339.6 L488.5,339.5 L489.5,339.3 L490.5,339.2 L491.5,339.0 L492.5,338.9 L493.5,338.7 L494.5,338.6 L495.5,338.4 L496.5,338.3 L497.5,338.2 L498.5,338.1 L499.5,338.0 L500.5,337.8 L501.5,337.7 L502.5,337.6 L503.5,337.5 L504.5,337.4 L505.5,337.3 L506.5,337.2 L507.5,337.1 L508.5,337.0 L509.5,336.9 L510.5,336.8 L511.5,336.7 L512.5,336.6 L513.5,336.6 L514.5,336.5 L515.5,336.4 L516.5,336.4 L517.5,336.3 L518.5,336.3 L519.5,336.2 L520.5,336.2 L521.5,336.1 L522.5,336.0 L523.5,336.0 L524.5,335.9 L525.5,335.9 L526.5,335.8 L527.5,335.8 L528.5,335.8 L529.5,335.7 L530.5,335.7 L531.5,335.7 L532.5,335.7 L533.5,335.7 L534.5,335.6 L535.5,335.6 L536.5,335.6 L537.5,335.6 L538.5,335.6 L539.5,335.5 L540.5,335.5 L541.2,335.5" fill="none" stroke="#7aa6cf" stroke-width="2" stroke-linejoin="round" stroke-linecap="round"/>
<path d="M79.5,362.7 L80.5,362.7 L81.5,362.6 L82.5,362.6 L83.5,362.6 L84.5,362.6 L85.5,362.5 L86.5,362.5 L87.5,362.5 L88.5,362.5 L89.5,362.4 L90.5,362.4 L91.5,362.4 L92.5,362.3 L93.5,362.3 L94.5,362.3 L95.5,362.3 L96.5,362.2 L97.5,362.2 L98.5,362.2 L99.5,362.2 L100.5,362.1 L101.5,362.1 L102.5,362.1 L103.5,362.0 L104.5,362.0 L105.5,362.0 L106.5,362.0 L107.5,361.9 L108.5,361.9 L109.5,361.9 L110.5,361.9 L111.5,361.8 L112.5,361.8 L113.5,361.8 L114.5,361.7 L115.5,361.7 L116.5,361.7 L117.5,361.7 L118.5,361.6 L119.5,361.6 L120.5,361.6 L121.5,361.6 L122.5,361.6 L123.5,361.5 L124.5,361.5 L125.5,361.5 L126.5,361.5 L127.5,361.5 L128.5,361.5 L129.5,361.4 L130.5,361.4 L131.5,361.4 L132.5,361.4 L133.5,361.4 L134.5,361.4 L135.5,361.3 L136.5,361.3 L137.5,361.3 L138.5,361.3 L139.5,361.3 L140.5,361.3 L141.5,361.2 L142.5,361.2 L143.5,361.2 L144.5,361.2 L145.5,361.2 L146.5,361.2 L147.5,361.1 L148.5,361.1 L149.5,361.1 L150.5,361.1 L151.5,361.1 L152.5,361.1 L153.5,361.1 L154.5,361.1 L155.5,361.1 L156.5,361.1 L157.5,361.1 L158.5,361.0 L159.5,361.0 L160.5,361.0 L161.5,361.0 L162.5,361.0 L163.5,361.0 L164.5,361.0 L165.5,361.0 L166.5,361.0 L167.5,361.0 L168.5,361.0 L169.5,361.0 L170.5,361.0 L171.5,361.0 L172.5,361.0 L173.5,361.0 L174.5,361.0 L175.5,360.9 L176.5,360.9 L177.5,360.9 L178.5,360.9 L179.5,360.9 L180.5,360.9 L181.5,360.9 L182.5,360.9 L183.5,360.9 L184.5,360.9 L185.5,360.9 L186.5,360.9 L187.5,360.9 L188.5,360.9 L189.5,360.9 L190.5,360.9 L191.5,360.9 L192.5,360.8 L193.5,360.8 L194.5,360.8 L195.5,360.8 L196.5,360.8 L197.5,360.8 L198.5,360.8 L199.5,360.8 L200.5,360.8 L201.5,360.8 L202.5,360.8 L203.5,360.8 L204.5,360.8 L205.5,360.8 L206.5,360.8 L207.5,360.8 L208.5,360.8 L209.5,360.8 L210.5,360.7 L211.5,360.7 L212.5,360.7 L213.5,360.7 L214.5,360.7 L215.5,360.7 L216.5,360.7 L217.5,360.7 L218.5,360.7 L219.5,360.7 L220.5,360.7 L221.5,360.7 L222.5,360.7 L223.5,360.7 L224.5,360.7 L225.5,360.7 L226.5,360.7 L227.5,360.7 L228.5,360.7 L229.5,360.7 L230.5,360.6 L231.5,360.6 L232.5,360.6 L233.5,360.6 L234.5,360.6 L235.5,360.6 L236.5,360.6 L237.5,360.6 L238.5,360.6 L239.5,360.6 L240.5,360.6 L241.5,360.6 L242.5,360.6 L243.5,360.5 L244.5,360.5 L245.5,360.5 L246.5,360.5 L247.5,360.5 L248.5,360.5 L249.5,360.5 L250.5,360.4 L251.5,360.4 L252.5,360.4 L253.5,360.4 L254.5,360.4 L255.5,360.4 L256.5,360.4 L257.5,360.3 L258.5,360.3 L259.5,360.3 L260.5,360.3 L261.5,360.3 L262.5,360.3 L263.5,360.2 L264.5,360.2 L265.5,360.2 L266.5,360.2 L267.5,360.2 L268.5,360.2 L269.5,360.2 L270.5,360.1 L271.5,360.1 L272.5,360.1 L273.5,360.1 L274.5,360.1 L275.5,360.1 L276.5,360.0 L277.5,360.0 L278.5,360.0 L279.5,360.0 L280.5,360.0 L281.5,360.0 L282.5,360.0 L283.5,359.9 L284.5,359.9 L285.5,359.9 L286.5,359.9 L287.5,359.9 L288.5,359.8 L289.5,359.8 L290.5,359.7 L291.5,359.7 L292.5,359.7 L293.5,359.6 L294.5,359.6 L295.5,359.6 L296.5,359.5 L297.5,359.5 L298.5,359.5 L299.5,359.4 L300.5,359.4 L301.5,359.3 L302.5,359.3 L303.5,359.2 L304.5,359.2 L305.5,359.1 L306.5,359.0 L307.5,359.0 L308.5,358.9 L309.5,358.9 L310.5,358.8 L311.5,358.8 L312.5,358.7 L313.5,358.7 L314.5,358.6 L315.5,358.5 L316.5,358.5 L317.5,358.4 L318.5,358.4 L319.5,358.3 L320.5,358.2 L321.5,358.1 L322.5,358.0 L323.5,357.9 L324.5,357.8 L325.5,357.7 L326.5,357.6 L327.5,357.5 L328.5,357.4 L329.5,357.3 L330.5,357.2 L331.5,357.1 L332.5,357.0 L333.5,356.8 L334.5,356.7 L335.5,356.6 L336.5,356.4 L337.5,356.3 L338.5,356.1 L339.5,356.0 L340.5,355.9 L341.5,355.7 L342.5,355.6 L343.5,355.5 L344.5,355.3 L345.5,355.2 L346.5,355.1 L347.5,354.9 L348.5,354.8 L349.5,354.6 L350.5,354.5 L351.5,354.4 L352.5,354.2 L353.5,354.1 L354.5,354.0 L355.5,353.8 L356.5,353.7 L357.5,353.6 L358.5,353.5 L359.5,353.3 L360.5,353.2 L361.5,353.1 L362.5,353.0 L363.5,352.9 L364.5,352.7 L365.5,352.6 L366.5,352.5 L367.5,352.4 L368.5,352.2 L369.5,352.1 L370.5,352.0 L371.5,351.9 L372.5,351.8 L373.5,351.6 L374.5,351.5 L375.5,351.4 L376.5,351.3 L377.5,351.1 L378.5,351.0 L379.5,350.9 L380.5,350.8 L381.5,350.6 L382.5,350.5 L383.5,350.4 L384.5,350.3 L385.5,350.1 L386.5,350.0 L387.5,349.9 L388.5,349.8 L389.5,349.6 L390.5,349.5 L391.5,349.4 L392.5,349.3 L393.5,349.1 L394.5,349.0 L395.5,348.9 L396.5,348.8 L397.5,348.6 L398.5,348.5 L399.5,348.4 L400.5,348.3 L401.5,348.1 L402.5,348.0 L403.5,347.9 L404.5,347.7 L405.5,347.6 L406.5,347.5 L407.5,347.3 L408.5,347.2 L409.5,347.0 L410.5,346.8 L411.5,346.7 L412.5,346.5 L413.5,346.4 L414.5,346.2 L415.5,346.0 L416.5,345.9 L417.5,345.7 L418.5,345.5 L419.5,345.3 L420.5,345.1 L421.5,344.9 L422.5,344.7 L423.5,344.4 L424.5,344.2 L425.5,343.9 L426.5,343.6 L427.5,343.3 L428.5,343.0 L429.5,342.7 L430.5,342.3 L431.5,342.0 L432.5,341.6 L433.5,341.2 L434.5,340.8 L435.5,340.4 L436.5,340.0 L437.5,339.6 L438.5,339.2 L439.5,338.8 L440.5,338.4 L441.5,338.0 L442.5,337.6 L443.5,337.2 L444.5,336.8 L445.5,336.4 L446.5,336.0 L447.5,335.6 L448.5,335.3 L449.5,334.9 L450.5,334.6 L451.5,334.3 L452.5,334.0 L453.5,333.7 L454.5,333.4 L455.5,333.1 L456.5,332.8 L457.5,332.6 L458.5,332.3 L459.5,332.1 L460.5,331.9 L461.5,331.7 L462.5,331.5 L463.5,331.2 L464.5,331.0 L465.5,330.9 L466.5,330.7 L467.5,330.5 L468.5,330.4 L469.5,330.2 L470.5,330.1 L471.5,329.9 L472.5,329.8 L473.5,329.6 L474.5,329.4 L475.5,329.3 L476.5,329.2 L477.5,329.0 L478.5,328.9 L479.5,328.8 L480.5,328.7 L481.5,328.6 L482.5,328.5 L483.5,328.4 L484.5,328.3 L485.5,328.3 L486.5,328.2 L487.5,328.1 L488.5,328.0 L489.5,327.9 L490.5,327.8 L491.5,327.7 L492.5,327.6 L493.5,327.5 L494.5,327.4 L495.5,327.3 L496.5,327.2 L497.5,327.1 L498.5,327.0 L499.5,326.9 L500.5,326.8 L501.5,326.8 L502.5,326.7 L503.5,326.7 L504.5,326.7 L505.5,326.7 L506.5,326.6 L507.5,326.6 L508.5,326.6 L509.5,326.6 L510.5,326.5 L511.5,326.5 L512.5,326.5 L513.5,326.5 L514.5,326.5 L515.5,326.4 L516.5,326.4 L517.0,326.4" fill="none" stroke="#434348" stroke-width="2" stroke-linejoin="round" stroke-linecap="round"/>
<path d="M79.5,362.7 L80.5,362.7 L81.5,362.7 L82.5,362.6 L83.5,362.6 L84.5,362.6 L85.5,362.6 L86.5,362.5 L87.5,362.4 L88.5,362.3 L89.5,362.2 L90.5,362.1 L91.5,362.0 L92.5,361.9 L93.5,361.8 L94.5,361.6 L95.5,361.5 L96.5,361.3 L97.5,361.1 L98.5,360.9 L99.5,360.8 L100.5,360.6 L101.5,360.4 L102.5,360.2 L103.5,359.9 L104.5,359.7 L105.5,359.5 L106.5,359.3 L107.5,359.1 L108.5,358.9 L109.5,358.6 L110.5,358.4 L111.5,358.2 L112.5,358.0 L113.5,357.8 L114.5,357.6 L115.5,357.4 L116.5,357.1 L117.5,356.9 L118.5,356.7 L119.5,356.4 L120.5,356.2 L121.5,356.0 L122.5,355.8 L123.5,355.5 L124.5,355.3 L125.5,355.1 L126.5,354.9 L127.5,354.7 L128.5,354.5 L129.5,354.3 L130.5,354.0 L131.5,353.8 L132.5,353.6 L133.5,353.4 L134.5,353.2 L135.5,353.0 L136.5,352.8 L137.5,352.6 L138.5,352.4 L139.5,352.2 L140.5,352.0 L141.5,351.8 L142.5,351.7 L143.5,351.5 L144.5,351.3 L145.5,351.1 L146.5,350.9 L147.5,350.8 L148.5,350.6 L149.5,350.4 L150.5,350.2 L151.5,350.1 L152.5,349.9 L153.5,349.7 L154.5,349.5 L155.5,349.4 L156.5,349.2 L157.5,349.0 L158.5,348.9 L159.5,348.7 L160.5,348.5 L161.5,348.4 L162.5,348.2 L163.5,348.1 L164.5,347.9 L165.5,347.8 L166.5,347.7 L167.5,347.5 L168.5,347.4 L169.5,347.2 L170.5,347.1 L171.5,346.9 L172.5,346.8 L173.5,346.6 L174.5,346.5 L175.5,346.3 L176.5,346.2 L177.5,346.0 L178.5,345.9 L179.5,345.7 L180.5,345.6 L181.5,345.4 L182.5,345.3 L183.5,345.1 L184.5,345.0 L185.5,344.8 L186.5,344.6 L187.5,344.5 L188.5,344.3 L189.5,344.1 L190.5,343.9 L191.5,343.6 L192.5,343.4 L193.5,343.2 L194.5,343.0 L195.5,342.8 L196.5,342.6 L197.5,342.3 L198.5,342.1 L199.5,341.8 L200.5,341.6 L201.5,341.3 L202.5,341.0 L203.5,340.6 L204.5,340.3 L205.5,340.0 L206.5,339.6 L207.5,339.3 L208.5,338.9 L209.5,338.6 L210.5,338.2 L211.5,337.9 L212.5,337.5 L213.5,337.1 L214.5,336.7 L215.5,336.3 L216.5,335.9 L217.5,335.4 L218.5,335.0 L219.5,334.5 L220.5,334.0 L221.5,333.6 L222.5,333.1 L223.5,332.6 L224.5,332.1 L225.5,331.6 L226.5,331.1 L227.5,330.6 L228.5,330.2 L229.5,329.7 L230.5,329.3 L231.5,328.9 L232.5,328.4 L233.5,328.0 L234.5,327.6 L235.5,327.1 L236.5,326.7 L237.5,326.2 L238.5,325.7 L239.5,325.3 L240.5,324.9 L241.5,324.5 L242.5,324.2 L243.5,323.8 L244.5,323.5 L245.5,323.1 L246.5,322.7 L247.5,322.4 L248.5,322.0 L249.5,321.6 L250.5,321.3 L251.5,320.9 L252.5,320.5 L253.5,320.2 L254.5,319.8 L255.5,319.4 L256.5,319.0 L257.5,318.6 L258.5,318.3 L259.5,317.9 L260.5,317.5 L261.5,317.1 L262.5,316.8 L263.5,316.4 L264.5,316.0 L265.5,315.7 L266.5,315.3 L267.5,315.0 L268.5,314.6 L269.5,314.3 L270.5,313.9 L271.5,313.5 L272.5,313.2 L273.5,312.8 L274.5,312.5 L275.5,312.2 L276.5,311.9 L277.5,311.6 L278.5,311.3 L279.5,311.0 L280.5,310.7 L281.5,310.4 L282.5,310.1 L283.5,309.8 L284.5,309.5 L285.5,309.2 L286.5,308.9 L287.5,308.6 L288.5,308.3 L289.5,308.1 L290.5,307.8 L291.5,307.5 L292.5,307.3 L293.5,307.0 L294.5,306.7 L295.5,306.4 L296.5,306.2 L297.5,305.9 L298.5,305.6 L299.5,305.3 L300.5,305.0 L301.5,304.7 L302.5,304.4 L303.5,304.1 L304.5,303.8 L305.5,303.5 L306.5,303.2 L307.5,302.9 L308.5,302.5 L309.5,302.2 L310.5,301.9 L311.5,301.5 L312.5,301.2 L313.5,300.8 L314.5,300.5 L315.5,300.2 L316.5,299.9 L317.5,299.6 L318.5,299.3 L319.5,299.0 L320.5,298.7 L321.5,298.4 L322.5,298.2 L323.5,297.9 L324.5,297.6 L325.5,297.3 L326.5,297.0 L327.5,296.7 L328.5,296.5 L329.5,296.2 L330.5,295.9 L331.5,295.6 L332.5,295.3 L333.5,295.0 L334.5,294.7 L335.5,294.4 L336.5,294.1 L337.5,293.8 L338.5,293.5 L339.5,293.1 L340.5,292.8 L341.5,292.5 L342.5,292.1 L343.5,291.8 L344.5,291.4 L345.5,291.0 L346.5,290.7 L347.5,290.3 L348.5,289.9 L349.5,289.5 L350.5,289.0 L351.5,288.5 L352.5,288.0 L353.5,287.5 L354.5,286.9 L355.5,286.3 L356.5,285.8 L357.5,285.2 L358.5,284.7 L359.5,284.1 L360.5,283.6 L361.5,283.1 L362.5,282.6 L363.5,282.2 L364.5,281.7 L365.5,281.1 L366.5,280.6 L367.5,280.0 L368.5,279.4 L369.5,278.8 L370.5,278.2 L371.5,277.5 L372.5,276.8 L373.5,276.0 L374.5,275.2 L375.5,274.4 L376.5,273.6 L377.5,272.7 L378.5,271.7 L379.5,270.7 L380.5,269.6 L381.5,268.5 L382.5,267.3 L383.5,266.1 L384.5,264.8 L385.5,263.5 L386.5,262.1 L387.5,260.8 L388.5,259.4 L389.5,258.0 L390.5,256.7 L391.5,255.3 L392.5,254.0 L393.5,252.7 L394.5,251.5 L395.5,250.2 L396.5,249.0 L397.5,247.7 L398.5,246.5 L399.5,245.3 L400.5,244.0 L401.5,242.8 L402.5,241.5 L403.5,240.2 L404.5,238.9 L405.5,237.5 L406.5,236.2 L407.5,234.9 L408.5,233.5 L409.5,232.2 L410.5,230.8 L411.5,229.4 L412.5,228.1 L413.5,226.7 L414.5,225.3 L415.5,224.0 L416.5,222.6 L417.5,221.2 L418.5,219.8 L419.5,218.4 L420.5,217.0 L421.5,215.6 L422.5,214.3 L423.5,212.9 L424.5,211.5 L425.5,210.2 L426.5,208.8 L427.5,207.4 L428.5,206.0 L429.5,204.6 L430.5,203.1 L431.5,201.6 L432.5,200.2 L433.5,198.7 L434.5,197.2 L435.5,195.8 L436.5,194.5 L437.5,193.1 L438.5,191.7 L439.5,190.3 L440.5,188.9 L441.5,187.3 L442.5,185.7 L443.5,184.0 L444.5,182.2 L445.5,180.4 L446.5,178.5 L447.5,176.5 L448.5,174.6 L449.5,172.7 L450.5,170.8 L451.5,168.9 L452.5,167.2 L453.5,165.4 L454.5,163.8 L455.5,162.2 L456.5,160.6 L457.5,159.0 L458.5,157.5 L459.5,156.1 L460.5,154.7 L461.5,153.3 L462.5,152.0 L463.5,150.7 L464.5,149.4 L465.5,148.2 L466.5,146.9 L467.5,145.7 L468.5,144.5 L469.5,143.4 L470.5,142.3 L471.5,141.2 L472.5,140.1 L473.5,139.0 L474.5,138.0 L475.5,137.0 L476.5,136.0 L477.5,135.0 L478.5,134.1 L479.5,133.1 L480.5,132.2 L481.5,131.3 L482.5,130.4 L483.5,129.5 L484.5,128.7 L485.5,127.8 L486.5,127.0 L487.5,126.2 L488.5,125.4 L489.5,124.6 L490.5,123.8 L491.5,123.0 L492.5,122.2 L493.5,121.5 L494.5,120.8 L495.5,120.0 L496.5,119.3 L497.5,118.6 L498.5,117.9 L499.5,117.3 L500.5,116.6 L501.5,116.0 L502.5,115.4 L503.5,114.8 L504.5,114.3 L505.5,113.8 L506.5,113.3 L507.5,112.8 L508.5,112.3 L509.5,111.8 L510.5,111.3 L511.5,110.9 L512.5,110.4 L513.5,109.9 L514.5,109.5 L515.5,109.0 L516.5,108.6 L517.5,108.1 L518.5,107.7 L519.5,107.2 L520.5,106.8 L521.5,106.4 L522.5,106.0 L523.5,105.7 L524.5,105.3 L525.5,104.9 L526.5,104.6 L526.7,104.4" fill="none" stroke="#84df62" stroke-width="2" stroke-linejoin="round" stroke-linecap="round"/>
<line x1="528.6" x2="544.6" y1="126.3" y2="126.3" stroke="#86592b" stroke-width="2"/>
<circle cx="536.6" cy="126.3" r="3.7" fill="#a0601c"/>
<text x="549.5" y="129.8" font-family="DejaVu Sans, sans-serif" font-size="10.2" font-weight="bold" fill="#333333" textLength="32.26" lengthAdjust="spacingAndGlyphs">Brazil</text>
<line x1="528.6" x2="544.6" y1="143.3" y2="143.3" stroke="#1e4a63" stroke-width="2"/>
<path d="M536.6,139.3 L540.6,143.3 L536.6,147.3 L532.6,143.3 Z" fill="#1f4e6e"/>
<text x="549.5" y="146.8" font-family="DejaVu Sans, sans-serif" font-size="10.2" font-weight="bold" fill="#333333" textLength="28.28" lengthAdjust="spacingAndGlyphs">India</text>
<line x1="528.6" x2="544.6" y1="160.3" y2="160.3" stroke="#c9607f" stroke-width="2"/>
<rect x="532.6" y="156.3" width="8" height="8" fill="#e8557a"/>
<text x="549.5" y="163.8" font-family="DejaVu Sans, sans-serif" font-size="10.2" font-weight="bold" fill="#333333" textLength="21.49" lengthAdjust="spacingAndGlyphs">Iran</text>
<line x1="528.6" x2="544.6" y1="177.3" y2="177.3" stroke="#a874ad" stroke-width="2"/>
<path d="M536.6,173.3 L540.6,181.3 L532.6,181.3 Z" fill="#b07cc6"/>
<text x="549.5" y="180.8" font-family="DejaVu Sans, sans-serif" font-size="10.2" font-weight="bold" fill="#333333" textLength="36.77" lengthAdjust="spacingAndGlyphs">Russia</text>
<line x1="528.6" x2="544.6" y1="194.3" y2="194.3" stroke="#7aa6cf" stroke-width="2"/>
<path d="M532.6,190.3 L540.6,190.3 L536.6,198.3 Z" fill="#7cb5ec"/>
<text x="549.5" y="197.8" font-family="DejaVu Sans, sans-serif" font-size="10.2" font-weight="bold" fill="#333333" textLength="30.50" lengthAdjust="spacingAndGlyphs">Spain</text>
<line x1="528.6" x2="544.6" y1="211.3" y2="211.3" stroke="#434348" stroke-width="2"/>
<circle cx="536.6" cy="211.3" r="3.7" fill="#434348"/>
<text x="549.5" y="214.8" font-family="DejaVu Sans, sans-serif" font-size="10.2" font-weight="bold" fill="#333333" textLength="92.38" lengthAdjust="spacingAndGlyphs">United Kingdom</text>
<line x1="528.6" x2="544.6" y1="228.3" y2="228.3" stroke="#84df62" stroke-width="2"/>
<path d="M536.6,224.3 L540.6,228.3 L536.6,232.3 L532.6,228.3 Z" fill="#7ced3c"/>
<text x="549.5" y="231.8" font-family="DejaVu Sans, sans-serif" font-size="10.2" font-weight="bold" fill="#333333" textLength="75.00" lengthAdjust="spacingAndGlyphs">United States</text>
<text x="369.6" y="409.6" font-family="Liberation Sans, Arial, sans-serif" font-size="12.5" fill="#9a9a9a" textLength="42.4" lengthAdjust="spacingAndGlyphs">Source:</text>
<text x="415.2" y="409.6" font-family="Liberation Sans, Arial, sans-serif" font-size="12.5" font-weight="bold" fill="#8e8e8e" textLength="81.4" lengthAdjust="spacingAndGlyphs">Worldometer</text>
<text x="500.2" y="409.6" font-family="Liberation Sans, Arial, sans-serif" font-size="12.5" fill="#9a9a9a">-</text>
<text x="507" y="409.6" font-family="Liberation Sans, Arial, sans-serif" font-size="12.5" fill="#66784f" textLength="139.2" lengthAdjust="spacingAndGlyphs">www.worldometers.info</text>
<line x1="507.4" x2="645.8" y1="411" y2="411" stroke="#aabd85" stroke-width="1"/>
<rect x="649.3" y="397.2" width="18.4" height="18.4" rx="3.2" fill="#96cd55"/>
<path d="M653.2,401 V407.8 Q653.2,411.8 656.1,411.8 Q659,411.8 659,407.8 V401.8 M659,407.8 Q659,411.8 661.8,411.8 Q664.7,411.8 664.7,407.8 V401" fill="none" stroke="#f4ffe0" stroke-width="2" stroke-linecap="round" stroke-linejoin="round"/>
</svg>
</body></html>
